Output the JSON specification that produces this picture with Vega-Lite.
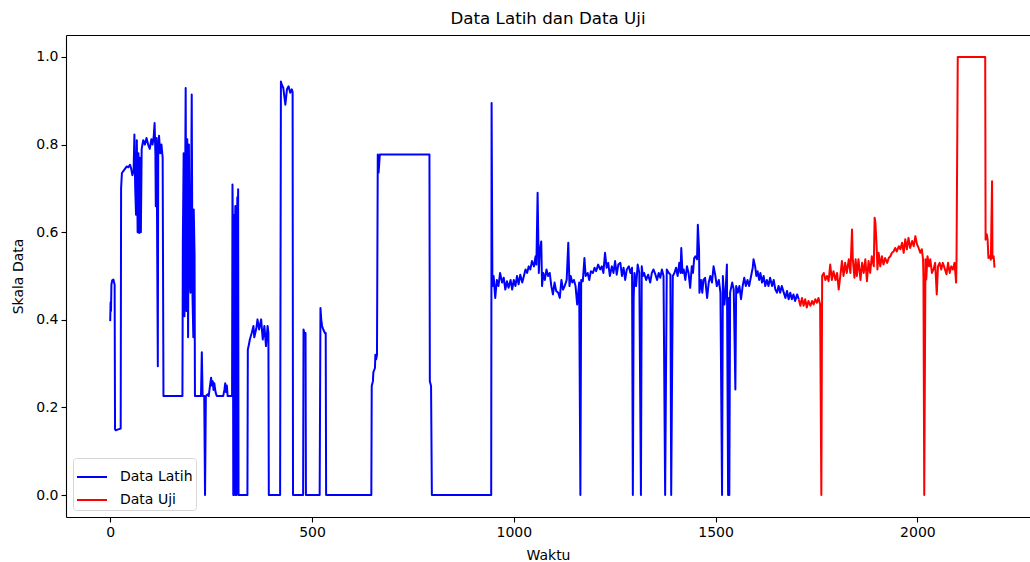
{
"$schema": "https://vega.github.io/schema/vega-lite/v6.json",
"width": 964, "height": 482,
"autosize": {"type": "none"},
"padding": {"left": 66, "top": 35, "right": 0, "bottom": 45},
"title": {"text": "Data Latih dan Data Uji", "font": "DejaVu Sans", "fontSize": 16.7, "fontWeight": "normal", "color": "black", "anchor": "middle", "offset": 7},
"datasets": {
"latih": [
{"t":0,"v":0.397},{"t":1,"v":0.44},{"t":2,"v":0.42},{"t":3,"v":0.48},{"t":5,"v":0.49},{"t":8,"v":0.492},{"t":11,"v":0.48},{"t":12,"v":0.15},{"t":14,"v":0.148},{"t":20,"v":0.15},{"t":26,"v":0.152},{"t":27,"v":0.70},{"t":29,"v":0.735},{"t":33,"v":0.74},{"t":37,"v":0.745},{"t":41,"v":0.75},{"t":45,"v":0.748},{"t":49,"v":0.754},{"t":52,"v":0.745},{"t":55,"v":0.73},{"t":58,"v":0.74},{"t":60,"v":0.823},{"t":62,"v":0.70},{"t":64,"v":0.64},{"t":66,"v":0.81},{"t":68,"v":0.60},{"t":70,"v":0.78},{"t":72,"v":0.598},{"t":74,"v":0.77},{"t":76,"v":0.60},{"t":78,"v":0.79},{"t":80,"v":0.80},{"t":82,"v":0.81},{"t":86,"v":0.80},{"t":90,"v":0.815},{"t":94,"v":0.80},{"t":98,"v":0.79},{"t":102,"v":0.812},{"t":105,"v":0.80},{"t":108,"v":0.82},{"t":110,"v":0.849},{"t":112,"v":0.78},{"t":113,"v":0.659},{"t":115,"v":0.815},{"t":118,"v":0.294},{"t":119,"v":0.79},{"t":121,"v":0.82},{"t":124,"v":0.78},{"t":127,"v":0.80},{"t":130,"v":0.77},{"t":132,"v":0.226},{"t":179,"v":0.226},{"t":180,"v":0.576},{"t":182,"v":0.78},{"t":184,"v":0.408},{"t":187,"v":0.929},{"t":189,"v":0.42},{"t":191,"v":0.812},{"t":193,"v":0.36},{"t":195,"v":0.80},{"t":197,"v":0.50},{"t":199,"v":0.462},{"t":202,"v":0.914},{"t":204,"v":0.45},{"t":206,"v":0.36},{"t":207,"v":0.652},{"t":209,"v":0.55},{"t":210,"v":0.226},{"t":225,"v":0.226},{"t":227,"v":0.326},{"t":229,"v":0.226},{"t":233,"v":0.226},{"t":235,"v":0.0},{"t":237,"v":0.226},{"t":241,"v":0.23},{"t":244,"v":0.226},{"t":246,"v":0.24},{"t":250,"v":0.268},{"t":252,"v":0.25},{"t":254,"v":0.26},{"t":256,"v":0.24},{"t":258,"v":0.255},{"t":261,"v":0.235},{"t":264,"v":0.226},{"t":280,"v":0.226},{"t":283,"v":0.24},{"t":285,"v":0.255},{"t":287,"v":0.235},{"t":289,"v":0.25},{"t":291,"v":0.226},{"t":302,"v":0.226},{"t":303,"v":0.709},{"t":304,"v":0.6},{"t":305,"v":0},{"t":306,"v":0},{"t":307,"v":0},{"t":308,"v":0.64},{"t":309,"v":0.55},{"t":310,"v":0.66},{"t":311,"v":0},{"t":312,"v":0},{"t":313,"v":0},{"t":314,"v":0.6},{"t":315,"v":0.68},{"t":316,"v":0.55},{"t":317,"v":0.698},{"t":318,"v":0},{"t":340,"v":0},{"t":341,"v":0.3325},{"t":343,"v":0.34},{"t":346,"v":0.355},{"t":351,"v":0.371},{"t":355,"v":0.386},{"t":357,"v":0.36},{"t":362,"v":0.38},{"t":365,"v":0.401},{"t":369,"v":0.378},{"t":374,"v":0.401},{"t":378,"v":0.355},{"t":382,"v":0.386},{"t":386,"v":0.34},{"t":390,"v":0.386},{"t":392,"v":0.37},{"t":393,"v":0},{"t":421,"v":0},{"t":423,"v":0.944},{"t":425,"v":0.937},{"t":429,"v":0.929},{"t":434,"v":0.891},{"t":438,"v":0.926},{"t":442,"v":0.933},{"t":446,"v":0.918},{"t":450,"v":0.926},{"t":452,"v":0.92},{"t":453,"v":0},{"t":478,"v":0},{"t":479,"v":0.378},{"t":481,"v":0.37},{"t":484,"v":0.37},{"t":485,"v":0},{"t":519,"v":0},{"t":521,"v":0.427},{"t":523,"v":0.40},{"t":525,"v":0.386},{"t":528,"v":0.378},{"t":532,"v":0.37},{"t":534,"v":0.37},{"t":535,"v":0},{"t":647,"v":0},{"t":648,"v":0.249},{"t":651,"v":0.26},{"t":652,"v":0.28},{"t":656,"v":0.29},{"t":657,"v":0.32},{"t":659,"v":0.31},{"t":661,"v":0.32},{"t":663,"v":0.777},{"t":665,"v":0.736},{"t":668,"v":0.777},{"t":791,"v":0.777},{"t":792,"v":0.26},{"t":795,"v":0.249},{"t":797,"v":0},{"t":944,"v":0},{"t":945,"v":0.895},{"t":947,"v":0.477},
{"t":950,"v":0.5},{"t":954,"v":0.45},{"t":958,"v":0.491},{"t":962,"v":0.477},{"t":966,"v":0.507},{"t":971,"v":0.485},{"t":975,"v":0.496},{"t":979,"v":0.469},{"t":983,"v":0.488},{"t":987,"v":0.473},{"t":992,"v":0.491},{"t":996,"v":0.469},{"t":1000,"v":0.491},{"t":1004,"v":0.477},{"t":1008,"v":0.5},{"t":1012,"v":0.481},{"t":1016,"v":0.503},{"t":1021,"v":0.485},{"t":1025,"v":0.5},{"t":1029,"v":0.515},{"t":1033,"v":0.507},{"t":1037,"v":0.522},{"t":1041,"v":0.515},{"t":1045,"v":0.534},{"t":1050,"v":0.522},{"t":1054,"v":0.545},{"t":1056,"v":0.526},{"t":1059,"v":0.69},{"t":1062,"v":0.507},{"t":1064,"v":0.553},{"t":1068,"v":0.579},{"t":1070,"v":0.477},{"t":1073,"v":0.507},{"t":1077,"v":0.491},{"t":1081,"v":0.515},{"t":1085,"v":0.5},{"t":1089,"v":0.507},{"t":1093,"v":0.477},{"t":1097,"v":0.458},{"t":1101,"v":0.485},{"t":1105,"v":0.466},{"t":1110,"v":0.462},{"t":1114,"v":0.45},{"t":1118,"v":0.491},{"t":1122,"v":0.469},{"t":1126,"v":0.477},{"t":1131,"v":0.491},{"t":1135,"v":0.576},{"t":1138,"v":0.477},{"t":1141,"v":0.5},{"t":1145,"v":0.485},{"t":1149,"v":0.491},{"t":1153,"v":0.477},{"t":1157,"v":0.435},{"t":1162,"v":0.485},{"t":1165,"v":0},{"t":1167,"v":0.491},{"t":1171,"v":0.488},{"t":1175,"v":0.541},{"t":1178,"v":0.5},{"t":1183,"v":0.507},{"t":1187,"v":0.491},{"t":1191,"v":0.511},{"t":1196,"v":0.507},{"t":1200,"v":0.519},{"t":1204,"v":0.511},{"t":1209,"v":0.526},{"t":1214,"v":0.515},{"t":1218,"v":0.522},{"t":1222,"v":0.507},{"t":1226,"v":0.553},{"t":1230,"v":0.519},{"t":1234,"v":0.53},{"t":1238,"v":0.5},{"t":1243,"v":0.522},{"t":1247,"v":0.507},{"t":1251,"v":0.534},{"t":1255,"v":0.503},{"t":1259,"v":0.526},
{"t":1264,"v":0.53},{"t":1268,"v":0.5},{"t":1272,"v":0.519},{"t":1276,"v":0.491},{"t":1280,"v":0.515},{"t":1285,"v":0.522},{"t":1289,"v":0.507},{"t":1293,"v":0.519},{"t":1295,"v":0},{"t":1297,"v":0.45},{"t":1299,"v":0.507},{"t":1303,"v":0.477},{"t":1307,"v":0.526},{"t":1311,"v":0.507},{"t":1315,"v":0},{"t":1317,"v":0.522},{"t":1320,"v":0.5},{"t":1323,"v":0.507},{"t":1328,"v":0.491},{"t":1333,"v":0.503},{"t":1338,"v":0.485},{"t":1342,"v":0.507},{"t":1346,"v":0.515},{"t":1351,"v":0.503},{"t":1355,"v":0.491},{"t":1359,"v":0.507},{"t":1363,"v":0.496},{"t":1367,"v":0.515},{"t":1371,"v":0.5},{"t":1375,"v":0},{"t":1379,"v":0.515},{"t":1384,"v":0.507},{"t":1388,"v":0.503},{"t":1390,"v":0},{"t":1394,"v":0.5},{"t":1398,"v":0.507},{"t":1402,"v":0.519},{"t":1406,"v":0.5},{"t":1410,"v":0.53},{"t":1413,"v":0.507},{"t":1415,"v":0.564},{"t":1418,"v":0.507},{"t":1421,"v":0.515},{"t":1425,"v":0.491},{"t":1429,"v":0.522},{"t":1433,"v":0.507},{"t":1437,"v":0.473},{"t":1441,"v":0.522},{"t":1444,"v":0.507},{"t":1447,"v":0.541},{"t":1450,"v":0.545},{"t":1454,"v":0.538},{"t":1456,"v":0.617},{"t":1459,"v":0.56},{"t":1460,"v":0.462},{"t":1464,"v":0.491},{"t":1467,"v":0.462},{"t":1470,"v":0.491},{"t":1474,"v":0.496},{"t":1479,"v":0.45},{"t":1483,"v":0.485},{"t":1487,"v":0.5},{"t":1491,"v":0.485},{"t":1495,"v":0.522},{"t":1499,"v":0.503},{"t":1503,"v":0.477},{"t":1508,"v":0.491},{"t":1512,"v":0.462},{"t":1516,"v":0},{"t":1518,"v":0.5},{"t":1522,"v":0.435},{"t":1525,"v":0.469},{"t":1528,"v":0.526},{"t":1531,"v":0},{"t":1533,"v":0.45},{"t":1534,"v":0},{"t":1536,"v":0.462},{"t":1541,"v":0.485},{"t":1545,"v":0.469},{"t":1549,"v":0.241},{"t":1551,"v":0.477},{"t":1555,"v":0.462},{"t":1559,"v":0.477},{"t":1563,"v":0.447},{"t":1567,"v":0.477},{"t":1571,"v":0.496},{"t":1575,"v":0.477},{"t":1579,"v":0.491},{"t":1583,"v":0.477},{"t":1588,"v":0.5},{"t":1592,"v":0.519},{"t":1594,"v":0.538},{"t":1598,"v":0.522},{"t":1601,"v":0.5},{"t":1604,"v":0.511},{"t":1608,"v":0.491},
{"t":1611,"v":0.507},{"t":1615,"v":0.485},{"t":1619,"v":0.5},{"t":1623,"v":0.477},{"t":1627,"v":0.491},{"t":1631,"v":0.477},{"t":1635,"v":0.496},{"t":1640,"v":0.477},{"t":1644,"v":0.491},{"t":1648,"v":0.469},{"t":1652,"v":0.462},{"t":1656,"v":0.477},{"t":1660,"v":0.462},{"t":1664,"v":0.477},{"t":1669,"v":0.462},{"t":1673,"v":0.45},{"t":1677,"v":0.466},{"t":1681,"v":0.447},{"t":1685,"v":0.462},{"t":1689,"v":0.447},{"t":1693,"v":0.458},{"t":1697,"v":0.443},{"t":1702,"v":0.458},{"t":1706,"v":0.447}
],
"uji": [
{"t":1706,"v":0.447},{"t":1710,"v":0.432},{"t":1714,"v":0.45},{"t":1718,"v":0.432},{"t":1722,"v":0.447},{"t":1726,"v":0.428},{"t":1730,"v":0.443},{"t":1735,"v":0.432},{"t":1739,"v":0.443},{"t":1743,"v":0.435},{"t":1747,"v":0.447},{"t":1751,"v":0.439},{"t":1755,"v":0.45},{"t":1759,"v":0.435},{"t":1762,"v":0},{"t":1764,"v":0.5},{"t":1768,"v":0.507},{"t":1772,"v":0.491},{"t":1776,"v":0.5},{"t":1780,"v":0.488},{"t":1784,"v":0.526},{"t":1788,"v":0.491},{"t":1792,"v":0.511},{"t":1797,"v":0.491},{"t":1801,"v":0.507},{"t":1805,"v":0.469},{"t":1809,"v":0.5},{"t":1813,"v":0.534},{"t":1817,"v":0.5},{"t":1821,"v":0.53},{"t":1825,"v":0.507},{"t":1830,"v":0.538},{"t":1834,"v":0.507},{"t":1838,"v":0.606},{"t":1840,"v":0.538},{"t":1844,"v":0.496},{"t":1847,"v":0.538},{"t":1850,"v":0.5},{"t":1854,"v":0.538},{"t":1859,"v":0.491},{"t":1863,"v":0.53},{"t":1867,"v":0.507},{"t":1871,"v":0.538},{"t":1875,"v":0.488},{"t":1879,"v":0.534},{"t":1883,"v":0.507},{"t":1887,"v":0.545},{"t":1892,"v":0.522},{"t":1894,"v":0.633},{"t":1896,"v":0.621},{"t":1899,"v":0.568},{"t":1901,"v":0.515},{"t":1904,"v":0.553},{"t":1908,"v":0.522},{"t":1912,"v":0.545},{"t":1916,"v":0.526},{"t":1920,"v":0.541},{"t":1925,"v":0.53},{"t":1929,"v":0.541},{"t":1933,"v":0.545},{"t":1937,"v":0.553},{"t":1941,"v":0.556},{"t":1945,"v":0.564},{"t":1949,"v":0.556},{"t":1954,"v":0.568},
{"t":1958,"v":0.561},{"t":1962,"v":0.576},{"t":1966,"v":0.553},{"t":1970,"v":0.584},{"t":1974,"v":0.561},{"t":1978,"v":0.587},{"t":1982,"v":0.564},{"t":1987,"v":0.58},{"t":1991,"v":0.568},{"t":1995,"v":0.591},{"t":1999,"v":0.572},{"t":2003,"v":0.564},{"t":2007,"v":0.553},{"t":2011,"v":0.561},{"t":2014,"v":0.538},{"t":2015,"v":0.496},{"t":2017,"v":0},{"t":2020,"v":0.538},{"t":2022,"v":0.492},{"t":2025,"v":0.545},{"t":2029,"v":0.522},{"t":2032,"v":0.538},{"t":2036,"v":0.507},{"t":2040,"v":0.515},{"t":2044,"v":0.53},{"t":2048,"v":0.458},{"t":2051,"v":0.522},{"t":2055,"v":0.53},{"t":2059,"v":0.515},{"t":2063,"v":0.53},{"t":2067,"v":0.519},{"t":2072,"v":0.504},{"t":2076,"v":0.53},{"t":2080,"v":0.507},{"t":2084,"v":0.522},{"t":2088,"v":0.515},{"t":2092,"v":0.53},{"t":2096,"v":0.485},{"t":2097,"v":0.541},{"t":2100,"v":1.0},{"t":2168,"v":1.0},{"t":2169,"v":0.583},{"t":2172,"v":0.595},{"t":2174,"v":0.583},{"t":2176,"v":0.541},{"t":2179,"v":0.545},{"t":2182,"v":0.537},{"t":2185,"v":0.716},{"t":2186,"v":0.541},{"t":2189,"v":0.545},{"t":2191,"v":0.519}
]
},
"layer": [
{
"data": {"name": "latih"},
"transform": [{"calculate": "'Data Latih'", "as": "Seri"}],
"mark": {"type": "line", "strokeWidth": 2, "strokeJoin": "round", "clip": true},
"encoding": {
"x": {"field": "t", "type": "quantitative", "scale": {"domain": [-109.5, 2279], "nice": false, "zero": false}, "axis": {"orient": "bottom", "values": [0, 500, 1000, 1500, 2000], "format": "d", "title": "Waktu", "titlePadding": 9}},
"y": {"field": "v", "type": "quantitative", "scale": {"domain": [-0.05, 1.05], "nice": false, "zero": false}, "axis": {"values": [0, 0.2, 0.4, 0.6, 0.8, 1.0], "format": ".1f", "title": "Skala Data", "titlePadding": 10}},
"color": {"field": "Seri", "type": "nominal", "scale": {"domain": ["Data Latih", "Data Uji"], "range": ["#0000ff", "#ff0000"]},
"legend": {"title": null, "orient": "bottom-left", "offset": 7, "symbolType": "stroke", "symbolSize": 900, "symbolStrokeWidth": 2, "labelFont": "DejaVu Sans", "labelFontSize": 14, "labelColor": "black", "labelOffset": 12, "padding": 3, "titlePadding": 0, "rowPadding": -1, "strokeColor": "#d6d6d6", "fillColor": "white", "cornerRadius": 3}}
}
},
{
"data": {"name": "uji"},
"transform": [{"calculate": "'Data Uji'", "as": "Seri"}],
"mark": {"type": "line", "strokeWidth": 2, "strokeJoin": "round", "clip": true},
"encoding": {
"x": {"field": "t", "type": "quantitative", "axis": null},
"y": {"field": "v", "type": "quantitative"},
"color": {"field": "Seri", "type": "nominal"}
}
},
{
"data": {"values": [{"t": 0}]},
"mark": {"type": "rule", "opacity": 0},
"encoding": {
"x": {"field": "t", "type": "quantitative", "axis": {"orient": "top", "labels": false, "ticks": false, "title": null}}
}
}
],
"resolve": {"axis": {"x": "independent"}},
"config": {
"view": {"stroke": null},
"axis": {"domainColor": "black", "domainWidth": 1.1, "tickColor": "black", "tickWidth": 1.1, "tickSize": 5, "labelFont": "DejaVu Sans", "labelFontSize": 14, "labelColor": "black", "labelPadding": 3, "titleFont": "DejaVu Sans", "titleFontSize": 14, "titleFontWeight": "normal", "titleColor": "black", "grid": false}
}
}
